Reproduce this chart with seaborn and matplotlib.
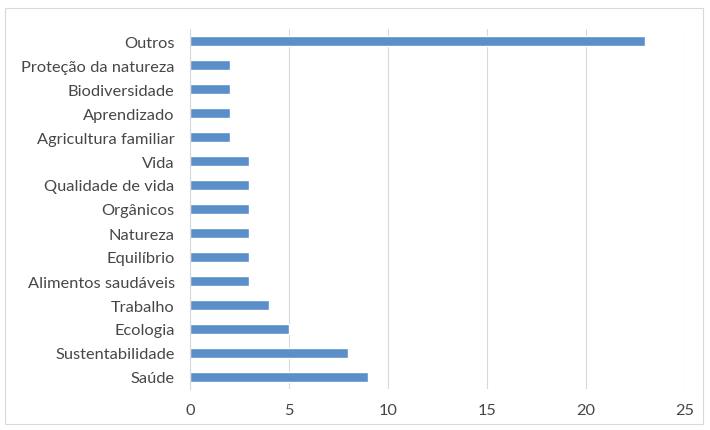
#!/usr/bin/env python3
"""Horizontal bar chart of themes (Excel style)."""

import matplotlib.pyplot as plt
import pandas as pd
import seaborn as sns
from matplotlib.patches import Rectangle

categories = [
    "Outros",
    "Proteção da natureza",
    "Biodiversidade",
    "Aprendizado",
    "Agricultura familiar",
    "Vida",
    "Qualidade de vida",
    "Orgânicos",
    "Natureza",
    "Equilíbrio",
    "Alimentos saudáveis",
    "Trabalho",
    "Ecologia",
    "Sustentabilidade",
    "Saúde",
]
counts = [23, 2, 2, 2, 2, 3, 3, 3, 3, 3, 3, 4, 5, 8, 9]
x_ticks = [0, 5, 10, 15, 20, 25]

BAR_COLOR = "#5B8FC9"
TEXT_COLOR = "#474747"
GRID_COLOR = "#D9D9D9"

df = pd.DataFrame({"categoria": categories, "valor": counts})

sns.set_style("white")
plt.rcParams["font.family"] = ["Lato", "DejaVu Sans"]

fig = plt.figure(figsize=(7.1, 4.31), dpi=100)
ax = fig.add_axes([190 / 710, 1 - 390 / 431, 495 / 710, 360 / 431])

sns.barplot(data=df, x="valor", y="categoria", order=categories,
            color=BAR_COLOR, saturation=1, width=0.42, ax=ax)

ax.set_xlim(0, 25)
ax.set_xticks(x_ticks)
ax.set_ylim(len(categories) - 0.5, -0.5)
ax.set_xlabel("")
ax.set_ylabel("")
ax.xaxis.grid(True, color=GRID_COLOR, linewidth=0.8)
ax.set_axisbelow(True)
for side in ["top", "right", "bottom"]:
    ax.spines[side].set_visible(False)
ax.spines["left"].set_color(GRID_COLOR)
ax.spines["left"].set_linewidth(0.8)
ax.tick_params(axis="both", length=0, labelsize=11.8, labelcolor=TEXT_COLOR)
ax.tick_params(axis="x", pad=10)
ax.tick_params(axis="y", pad=11)

# outer chart frame
fig.patches.append(Rectangle((5 / 710, 1 - 425 / 431), 698 / 710, 416 / 431,
                             transform=fig.transFigure, fill=False,
                             edgecolor=GRID_COLOR, linewidth=0.8))

fig.savefig("out.png", dpi=100)
